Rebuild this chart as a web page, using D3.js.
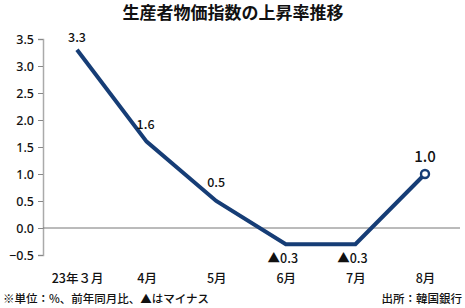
<!DOCTYPE html>
<html><head><meta charset="utf-8">
<script src="https://cdn.jsdelivr.net/npm/d3@7"></script>
<style>
body{margin:0;background:#fff;}
svg{display:block;font-family:"Noto Sans CJK JP","Noto Sans",sans-serif;}
</style></head>
<body>
<svg id="c" width="465" height="308"></svg>
<script>
const title = "生産者物価指数の上昇率推移";
const categories = ["23年３月","4月","5月","6月","7月","8月"];
const values = [3.3, 1.6, 0.5, -0.3, -0.3, 1.0];
const valueLabels = ["3.3","1.6","0.5","▲0.3","▲0.3","1.0"];
const yTicks = [-0.5, 0, 0.5, 1.0, 1.5, 2.0, 2.5, 3.0, 3.5];
const note = "※単位：%、前年同月比、▲はマイナス";
const source = "出所：韓国銀行";

const svg = d3.select("#c");
const navy = "#163d76";
const x = d3.scalePoint().domain(categories).range([77, 425]);
const y = d3.scaleLinear().domain([-0.5, 3.5]).range([255, 39]);

svg.append("text").attr("x", 233).attr("y", 19).attr("text-anchor","middle")
  .attr("font-size", 17).attr("font-weight", 700).attr("fill","#111").text(title);

// y axis
const ya = svg.append("g").attr("transform","translate(43,0)")
  .call(d3.axisLeft(y).tickValues(yTicks).tickFormat(d3.format(".1f")).tickSize(5).tickPadding(4));
ya.select(".domain").attr("stroke","#aaa").attr("stroke-width",1.5);
ya.selectAll(".tick line").attr("stroke","#888");
ya.selectAll(".tick text").attr("font-size",12.5).attr("fill","#111").attr("font-weight",500)
  .attr("font-family","'Noto Sans',sans-serif");

// zero line
svg.append("line").attr("x1",43).attr("x2",460).attr("y1",y(0)).attr("y2",y(0))
  .attr("stroke","#777").attr("stroke-width",1);

// x labels
const xa = svg.append("g").attr("transform","translate(0,266)")
  .call(d3.axisBottom(x).tickSize(0).tickPadding(8));
xa.select(".domain").remove();
xa.selectAll(".tick text").attr("font-size",12.5).attr("fill","#111").attr("font-weight",500)
  .attr("font-family","'Noto Sans CJK JP',sans-serif");

// line
const line = d3.line().x((d,i)=>x(categories[i])).y(d=>y(d));
svg.append("path").datum(values).attr("d",line).attr("fill","none")
  .attr("stroke",navy).attr("stroke-width",4).attr("stroke-linejoin","miter");

// end marker
const last = values.length-1;
svg.append("circle").attr("cx",x(categories[last])).attr("cy",y(values[last])).attr("r",4)
  .attr("fill","#fff").attr("stroke",navy).attr("stroke-width",2.4);

// value labels
const offsets = [[0,-8],[-1,-13],[0,-14],[-3,19],[-3,19],[0,-12]];
values.forEach((v,i)=>{
  svg.append("text").attr("x",x(categories[i])+offsets[i][0]).attr("y",y(v)+offsets[i][1])
    .attr("text-anchor","middle").attr("font-size", i===last?15:12.5).attr("fill","#111").attr("font-weight",500)
    .attr("font-family","'Noto Sans CJK JP',sans-serif").text(valueLabels[i]);
});

svg.append("text").attr("x",3).attr("y",303).attr("font-size",11.5).attr("fill","#111").attr("font-weight",500).text(note);
svg.append("text").attr("x",462).attr("y",303).attr("text-anchor","end").attr("font-size",11.5).attr("fill","#111").attr("font-weight",500).text(source);
</script>
</body></html>
